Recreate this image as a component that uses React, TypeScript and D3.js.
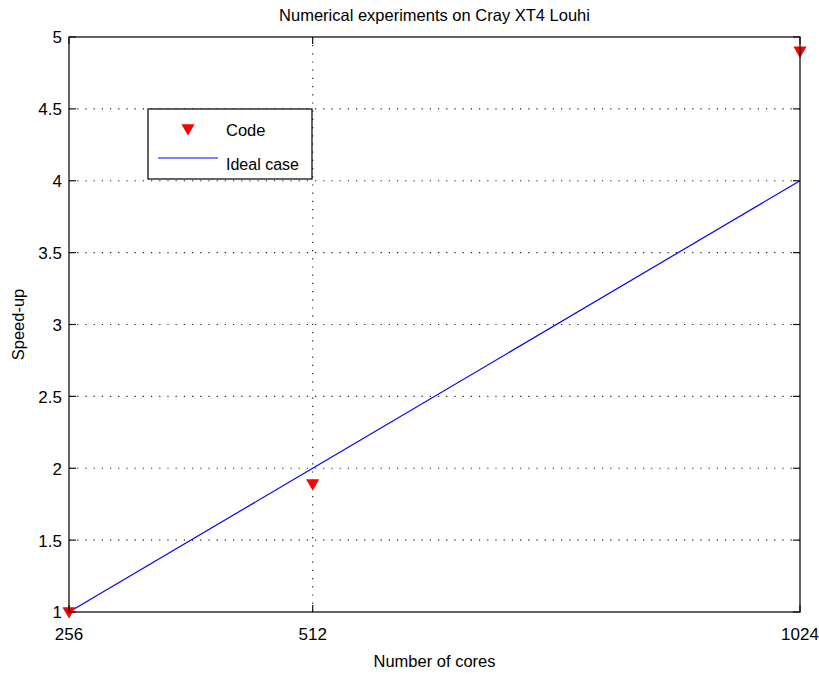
import React, { useEffect, useRef } from 'react'
import * as d3 from 'd3'

const cores = [256, 512, 1024]
const codeSpeedup = [1.0, 1.89, 4.9]
const idealSpeedup = [1, 2, 4]
const yTicks = [1, 1.5, 2, 2.5, 3, 3.5, 4, 4.5, 5]

const App: React.FC = () => {
  const svgRef = useRef<SVGSVGElement | null>(null)

  useEffect(() => {
    if (!svgRef.current) return
    const svg = d3.select(svgRef.current)
    svg.selectAll('*').remove()

    const width = 819
    const height = 675
    const margin = { top: 37, right: 19, bottom: 63, left: 69 }
    const font = '"Liberation Sans", Arial, sans-serif'

    const x = d3
      .scaleLinear()
      .domain([256, 1024])
      .range([margin.left, width - margin.right])
    const y = d3
      .scaleLinear()
      .domain([1, 5])
      .range([height - margin.bottom, margin.top])

    const [x0, x1] = x.range()
    const [y0, y1] = y.range()

    svg.append('rect').attr('width', width).attr('height', height).attr('fill', '#fff')

    // dotted grid
    const grid = svg.append('g').attr('stroke', '#222').attr('stroke-width', 1.2)
      .attr('stroke-dasharray', '1.2,7').attr('fill', 'none')
    grid
      .selectAll('line.gx')
      .data(cores.slice(1, -1))
      .join('line')
      .attr('x1', d => x(d))
      .attr('x2', d => x(d))
      .attr('y1', y0)
      .attr('y2', y1)
    grid
      .selectAll('line.gy')
      .data(yTicks.slice(1, -1))
      .join('line')
      .attr('class', 'gy')
      .attr('x1', x0)
      .attr('x2', x1)
      .attr('y1', d => y(d))
      .attr('y2', d => y(d))

    // inward ticks on all four sides
    const tickLen = 7
    const ticks = svg.append('g').attr('stroke', '#111').attr('stroke-width', 1.2)
    cores.forEach(c => {
      ticks.append('line').attr('x1', x(c)).attr('x2', x(c)).attr('y1', y0).attr('y2', y0 - tickLen)
      ticks.append('line').attr('x1', x(c)).attr('x2', x(c)).attr('y1', y1).attr('y2', y1 + tickLen)
    })
    yTicks.forEach(t => {
      ticks.append('line').attr('x1', x0).attr('x2', x0 + tickLen).attr('y1', y(t)).attr('y2', y(t))
      ticks.append('line').attr('x1', x1).attr('x2', x1 - tickLen).attr('y1', y(t)).attr('y2', y(t))
    })

    // ideal line
    const line = d3
      .line<number>()
      .x((d, i) => x(cores[i]))
      .y(d => y(d))
    svg
      .append('path')
      .datum(idealSpeedup)
      .attr('d', line)
      .attr('fill', 'none')
      .attr('stroke', '#0000ff')
      .attr('stroke-width', 1.2)

    // code markers
    const tri = d3.symbol().type(d3.symbolTriangle).size(75)
    svg
      .append('g')
      .selectAll('path')
      .data(codeSpeedup)
      .join('path')
      .attr('d', tri)
      .attr('transform', (d, i) => `translate(${x(cores[i])},${y(d) - 1}) rotate(180)`)
      .attr('fill', '#ff0000')

    // axes box
    svg
      .append('rect')
      .attr('x', x0)
      .attr('y', y1)
      .attr('width', x1 - x0)
      .attr('height', y0 - y1)
      .attr('fill', 'none')
      .attr('stroke', '#111')
      .attr('stroke-width', 1.3)

    // tick labels
    svg
      .append('g')
      .attr('font-family', font)
      .attr('font-size', 17)
      .attr('text-anchor', 'middle')
      .selectAll('text')
      .data(cores)
      .join('text')
      .attr('x', d => x(d))
      .attr('y', y0 + 28)
      .text(d => d)
    svg
      .append('g')
      .attr('font-family', font)
      .attr('font-size', 17)
      .attr('text-anchor', 'end')
      .selectAll('text')
      .data(yTicks)
      .join('text')
      .attr('x', x0 - 7)
      .attr('y', d => y(d))
      .attr('dy', '0.38em')
      .text(d => d)

    // titles
    svg
      .append('text')
      .attr('x', (x0 + x1) / 2)
      .attr('y', 21)
      .attr('text-anchor', 'middle')
      .attr('font-family', font)
      .attr('font-size', 16.5)
      .text('Numerical experiments on Cray XT4 Louhi')
    svg
      .append('text')
      .attr('x', (x0 + x1) / 2)
      .attr('y', 667)
      .attr('text-anchor', 'middle')
      .attr('font-family', font)
      .attr('font-size', 16.5)
      .text('Number of cores')
    svg
      .append('text')
      .attr('transform', `translate(24,${(y0 + y1) / 2}) rotate(-90)`)
      .attr('text-anchor', 'middle')
      .attr('font-family', font)
      .attr('font-size', 16.5)
      .text('Speed-up')

    // legend
    const legend = svg.append('g').attr('transform', 'translate(148,109)')
    legend
      .append('rect')
      .attr('width', 164)
      .attr('height', 70)
      .attr('fill', '#fff')
      .attr('stroke', '#111')
      .attr('stroke-width', 1.3)
    legend
      .append('path')
      .attr('d', tri)
      .attr('transform', 'translate(40,19) rotate(180)')
      .attr('fill', '#ff0000')
    legend
      .append('text')
      .attr('x', 78)
      .attr('y', 27)
      .attr('font-family', font)
      .attr('font-size', 16.5)
      .text('Code')
    legend
      .append('line')
      .attr('x1', 10)
      .attr('x2', 70)
      .attr('y1', 49)
      .attr('y2', 49)
      .attr('stroke', '#0000ff')
      .attr('stroke-width', 1.2)
    legend
      .append('text')
      .attr('x', 78)
      .attr('y', 61)
      .attr('font-family', font)
      .attr('font-size', 16)
      .text('Ideal case')
  }, [])

  return (
    <svg
      ref={svgRef}
      width={819}
      height={675}
      style={{ position: 'absolute', left: 0, top: 0, display: 'block' }}
    ></svg>
  )
}

export default App
